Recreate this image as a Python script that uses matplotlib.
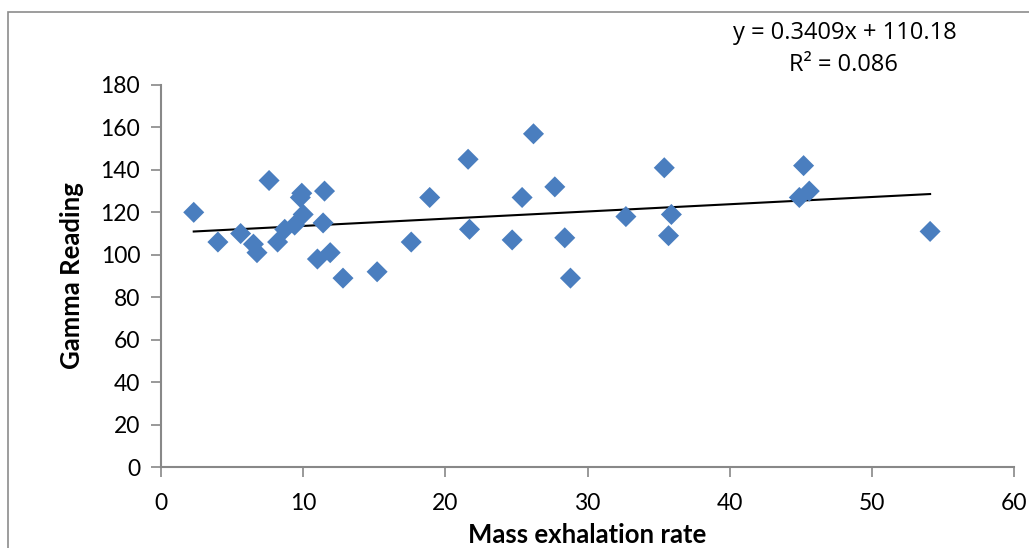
import matplotlib.pyplot as plt
from matplotlib.patches import Rectangle

# Datos
mass_rate = [2.3, 4.0, 5.6, 6.5, 6.75, 7.6, 8.2, 8.7, 9.4, 10.0, 9.9, 9.8,
             11.5, 11.4, 11.0, 11.9, 12.8, 15.2, 17.6, 18.9, 21.6, 21.7,
             24.7, 25.4, 26.2, 27.7, 28.4, 28.8, 32.7, 35.4, 35.9, 35.7,
             45.2, 44.9, 45.6, 54.1]
gamma = [120, 106, 110, 105, 101, 135, 106, 112, 114, 119, 129, 127,
         130, 115, 98, 101, 89, 92, 106, 127, 145, 112,
         107, 127, 157, 132, 108, 89, 118, 141, 119, 109,
         142, 127, 130, 111]

# Línea de tendencia (de la ecuación mostrada)
slope = 0.3409
intercept = 110.18
r2 = 0.086

xticks = [0, 10, 20, 30, 40, 50, 60]
yticks = [0, 20, 40, 60, 80, 100, 120, 140, 160, 180]

fig = plt.figure(figsize=(10.29, 5.48), dpi=100)
ax = fig.add_axes([0.1565, 0.1478, 0.8289, 0.6971])

ax.scatter(mass_rate, gamma, marker='D', s=115, color='#4A7EBF',
           edgecolors='none', zorder=3)

x_line = [min(mass_rate), max(mass_rate)]
y_line = [slope * x + intercept for x in x_line]
ax.plot(x_line, y_line, color='black', lw=1.5, zorder=2)

ax.set_xlim(0, 60)
ax.set_ylim(0, 180)
ax.set_xticks(xticks)
ax.set_yticks(yticks)

for s in ['top', 'right']:
    ax.spines[s].set_visible(False)
for s in ['left', 'bottom']:
    ax.spines[s].set_color('#888888')
    ax.spines[s].set_linewidth(1.5)

ax.tick_params(axis='both', direction='out', length=7, width=1.2,
               color='#888888', labelsize=16.5, labelcolor='black')
ax.tick_params(axis='x', pad=12)
ax.tick_params(axis='y', pad=8)
for lab in ax.get_xticklabels() + ax.get_yticklabels():
    lab.set_fontfamily(['Lato', 'DejaVu Sans'])

ax.set_xlabel('Mass exhalation rate', fontsize=18.5, fontweight='bold',
              family=['Lato', 'DejaVu Sans'], labelpad=6)
ax.set_ylabel('Gamma Reading', fontsize=18.5, fontweight='bold',
              family=['Lato', 'DejaVu Sans'], labelpad=12)

fig.text(845 / 1029, 1 - 33 / 548, 'y = 0.3409x + 110.18', ha='center',
         va='center', fontsize=17, family=['Open Sans', 'DejaVu Sans'])
fig.text(843 / 1029, 1 - 65 / 548, 'R² = %.3f' % r2, ha='center',
         va='center', fontsize=17, family=['Open Sans', 'DejaVu Sans'])

# Marco exterior del gráfico (solo se ven arriba e izquierda)
fig.patches.append(Rectangle((8 / 1029, -0.1), 1.2, 1.1 - 12 / 548,
                             transform=fig.transFigure, fill=False,
                             edgecolor='#8c8c8c', lw=1.2))

fig.savefig('out.png', dpi=100)
